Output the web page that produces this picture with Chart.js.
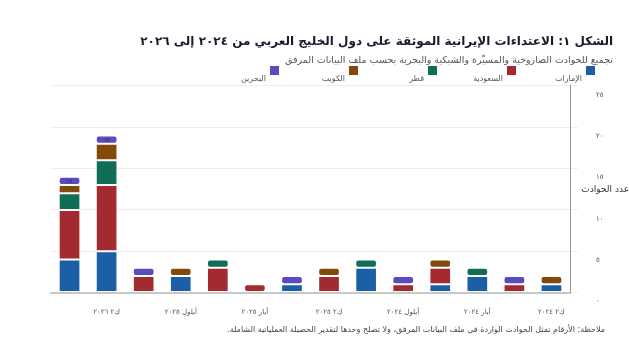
<!DOCTYPE html>
<html lang="ar" dir="rtl">
<head>
<meta charset="utf-8">
<script src="https://cdn.jsdelivr.net/npm/chart.js@4.4.1/dist/chart.umd.min.js"></script>
<style>
  html, body { margin: 0; padding: 0; background: #fff; }
  #wrap { width: 629px; height: 353px; }
</style>
</head>
<body>
<div id="wrap"><canvas id="attacksChart"></canvas></div>
<script>
// periods, oldest first (drawn right to left)
const periods = ['ك٢ ٢٠٢٤', 'آذار ٢٠٢٤', 'أيار ٢٠٢٤', 'تموز ٢٠٢٤', 'أيلول ٢٠٢٤', 'ت٢ ٢٠٢٤',
                 'ك٢ ٢٠٢٥', 'آذار ٢٠٢٥', 'أيار ٢٠٢٥', 'تموز ٢٠٢٥', 'أيلول ٢٠٢٥', 'ت٢ ٢٠٢٥',
                 'ك٢ ٢٠٢٦', 'آذار ٢٠٢٦'];

const uae     = [1, 0, 2, 1, 0, 3, 0, 1, 0, 0, 2, 0, 5, 4];
const saudi   = [0, 1, 0, 2, 1, 0, 2, 0, 1, 3, 0, 2, 8, 6];
const qatar   = [0, 0, 1, 0, 0, 1, 0, 0, 0, 1, 0, 0, 3, 2];
const kuwait  = [1, 0, 0, 1, 0, 0, 1, 0, 0, 0, 1, 0, 2, 1];
const bahrain = [0, 1, 0, 0, 1, 0, 0, 1, 0, 0, 0, 1, 1, 1];

const yTicks = ['٠', '٥', '١٠', '١٥', '٢٠', '٢٥'];

const toArabicDigits = n => String(n).replace(/\d/g, d => '٠١٢٣٤٥٦٧٨٩'[d]);
const noZero = arr => arr.map(v => (v === 0 ? null : v));

const FONT = "'DejaVu Sans', sans-serif";

const series = [
    { label: 'الإمارات', data: uae, color: '#1b5fa6' },
    { label: 'السعودية', data: saudi, color: '#a32b2f' },
    { label: 'قطر', data: qatar, color: '#0f6e55' },
    { label: 'الكويت', data: kuwait, color: '#834a0b' },
    { label: 'البحرين', data: bahrain, color: '#5a4bbf' },
];

// legend, y-axis caption, totals on tall bars, footnote
const extras = {
    id: 'extras',
    afterDraw(chart) {
        const { ctx, chartArea, scales } = chart;
        ctx.save();
        ctx.direction = 'rtl';

        // legend: box with label just left of it and a bit lower
        ctx.font = '8px ' + FONT;
        ctx.textAlign = 'right';
        ctx.textBaseline = 'middle';
        series.forEach((s, i) => {
            const boxRight = 595 - i * 79;
            ctx.fillStyle = s.color;
            ctx.fillRect(boxRight - 9, 66, 9, 9);
            ctx.fillStyle = '#555';
            ctx.fillText(s.label, boxRight - 13, 79);
        });

        ctx.font = '9px ' + FONT;
        ctx.fillStyle = '#333';
        ctx.fillText('عدد الحوادث', chart.width, (chartArea.top + chartArea.bottom) / 2);

        ctx.font = '6px ' + FONT;
        ctx.fillStyle = '#333';
        ctx.textAlign = 'center';
        periods.forEach((p, i) => {
            const total = series.reduce((s, d) => s + d.data[i], 0);
            if (total < 10) return;
            ctx.fillText(toArabicDigits(total), scales.x.getPixelForValue(i), scales.y.getPixelForValue(total) + 5);
        });

        ctx.font = '8px ' + FONT;
        ctx.fillStyle = '#444';
        ctx.textAlign = 'right';
        ctx.fillText('ملاحظة: الأرقام تمثل الحوادث الواردة في ملف البيانات المرفق، ولا تصلح وحدها لتقدير الحصيلة العملياتية الشاملة.', 605, 330);
        ctx.restore();
    }
};

new Chart(document.getElementById('attacksChart'), {
    type: 'bar',
    data: {
        labels: periods,
        datasets: series.map(s => ({
            label: s.label,
            data: noZero(s.data),
            backgroundColor: s.color,
            borderColor: 'rgba(255,255,255,0.7)',
            borderWidth: 1,
            borderRadius: 3,
            borderSkipped: false,
            barPercentage: 0.65,
            categoryPercentage: 0.9,
        }))
    },
    options: {
        responsive: true,
        maintainAspectRatio: false,
        animation: false,
        layout: { padding: { left: 51, right: 16, bottom: 30 } },
        plugins: {
            title: {
                display: true,
                text: 'الشكل ١: الاعتداءات الإيرانية الموثقة على دول الخليج العربي من ٢٠٢٤ إلى ٢٠٢٦',
                align: 'end',
                color: '#1a1a2e',
                font: { family: FONT, size: 12, weight: 'bold' },
                padding: { top: 35, bottom: 5 },
            },
            subtitle: {
                display: true,
                text: 'تجميع للحوادث الصاروخية والمسيّرة والشبكية والبحرية بحسب ملف البيانات المرفق',
                align: 'end',
                color: '#555',
                font: { family: FONT, size: 9.5 },
                padding: { bottom: 20 },
            },
            legend: { display: false },
            tooltip: { enabled: false },
        },
        scales: {
            x: {
                stacked: true,
                reverse: true,
                grid: { display: false },
                border: { color: '#c8c8c8', width: 2 },
                ticks: {
                    autoSkip: false,
                    maxRotation: 0,
                    padding: 7,
                    color: '#555',
                    font: { family: FONT, size: 7 },
                    callback: (v, i) => (i % 2 === 0 ? periods[i] : ''),
                },
            },
            y: {
                stacked: true,
                position: 'right',
                min: 0,
                max: 25,
                grid: { color: '#eeeeee' },
                border: { color: '#999', width: 1 },
                ticks: {
                    stepSize: 5,
                    padding: 18,
                    labelOffset: 9,
                    color: '#555',
                    font: { family: FONT, size: 7 },
                    callback: (v) => yTicks[v / 5],
                },
                afterFit: (scale) => { scale.width = 43; },
            },
        },
    },
    plugins: [extras]
});
</script>
</body>
</html>
